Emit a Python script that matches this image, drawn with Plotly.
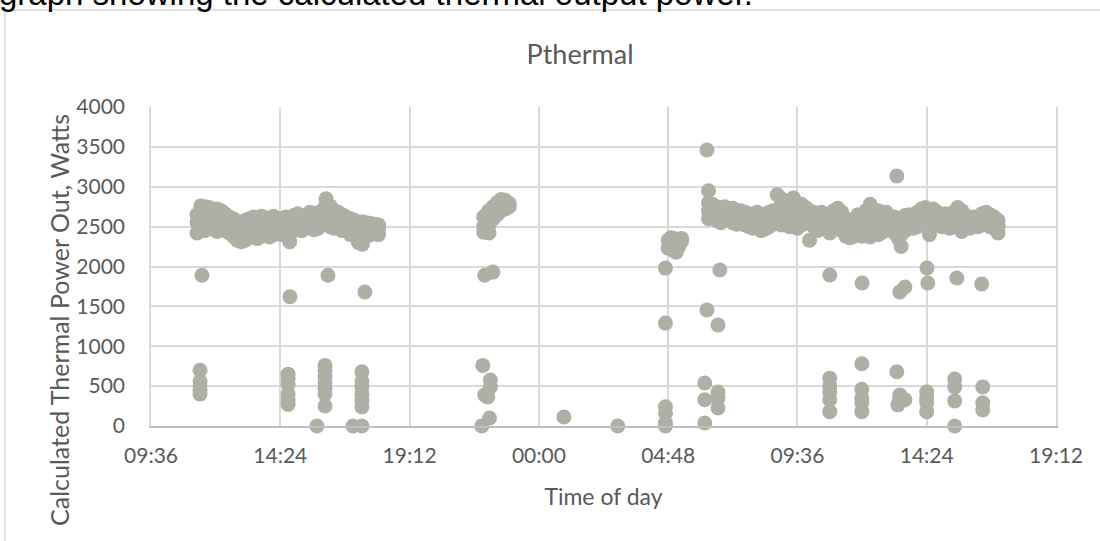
import plotly.graph_objects as go

# ---------------- data (time in hours from midnight of day 1, power in W) -------------
tick_hours = [9.6, 14.4, 19.2, 24.0, 28.8, 33.6, 38.4, 43.2]
tick_labels = ["09:36", "14:24", "19:12", "00:00", "04:48", "09:36", "14:24", "19:12"]
y_ticks = [0, 500, 1000, 1500, 2000, 2500, 3000, 3500, 4000]

# day 1 main operating band
day1_band = [
    (11.31, [2420, 2550, 2650]), (11.45, [2480, 2600, 2720, 2760]),
    (11.60, [2450, 2580, 2700, 2750]), (11.75, [2500, 2620, 2740]),
    (11.90, [2470, 2560, 2680]), (12.05, [2440, 2540, 2650, 2720]),
    (12.20, [2480, 2600, 2700]), (12.35, [2450, 2550, 2660]),
    (12.50, [2420, 2520, 2620]), (12.65, [2380, 2500, 2600]),
    (12.80, [2330, 2450, 2560]), (12.95, [2310, 2420, 2540]),
    (13.10, [2330, 2450, 2580]), (13.25, [2360, 2480, 2600]),
    (13.40, [2390, 2500, 2620]), (13.55, [2350, 2470, 2590]),
    (13.70, [2380, 2500, 2630]), (13.85, [2400, 2520, 2610]),
    (14.00, [2370, 2480, 2600]), (14.15, [2400, 2520, 2630]),
    (14.30, [2430, 2540, 2600]), (14.45, [2400, 2500, 2580]),
    (14.60, [2450, 2550, 2620]), (14.75, [2310, 2480, 2580]),
    (14.90, [2450, 2560, 2640]), (15.05, [2500, 2590, 2660]),
    (15.20, [2450, 2550, 2620]), (15.35, [2480, 2580, 2640]),
    (15.50, [2500, 2600, 2680]), (15.65, [2460, 2560, 2650]),
    (15.80, [2480, 2590, 2670]), (15.95, [2520, 2620, 2700]),
    (16.10, [2550, 2700, 2780, 2850]), (16.25, [2500, 2650, 2760]),
    (16.40, [2480, 2600, 2700]), (16.55, [2520, 2620, 2680]),
    (16.70, [2450, 2560, 2650]), (16.85, [2480, 2580, 2620]),
    (17.00, [2400, 2500, 2600]), (17.15, [2450, 2540, 2580]),
    (17.30, [2300, 2420, 2520]), (17.45, [2280, 2400, 2500, 2560]),
    (17.60, [2380, 2470, 2550]), (17.75, [2400, 2500, 2540]),
    (17.90, [2420, 2500, 2530]), (18.05, [2400, 2480, 2520]),
]
day1_other = [
    (11.49, [1890]), (14.76, [1620]), (16.17, [1890]), (17.54, [1680]),
    (11.42, [700, 560, 500, 450, 400]),
    (14.69, [650, 600, 520, 400, 330, 270]),
    (16.06, [760, 700, 620, 550, 470, 400, 250]),
    (15.76, [0]), (17.10, [0]), (17.43, [0]),
    (17.43, [680, 560, 490, 400, 320, 240]),
]

# evening cluster
evening = [
    (21.95, [2430, 2500, 2620]), (22.05, [2470, 2550, 2650]),
    (22.15, [2420, 2520, 2700]), (22.30, [2600, 2700, 2750]),
    (22.45, [2650, 2720, 2780, 2800]), (22.60, [2700, 2780, 2820, 2840]),
    (22.75, [2720, 2800, 2830]), (22.90, [2750, 2790]),
    (21.99, [1890]), (22.29, [1930]),
    (21.92, [760]), (22.20, [577, 490]), (21.99, [390]), (22.10, [365]),
    (21.88, [0]), (22.17, [100]),
]

# night / early morning
night = [
    (24.93, [113]), (26.93, [0]),
    (28.70, [1980, 1290, 240, 160, 40, 0]),
    (28.80, [2230, 2330]), (28.90, [2360, 2280]), (29.00, [2200, 2350]),
    (29.10, [2180, 2280]), (29.20, [2250, 2330]), (29.30, [2320, 2350]),
]

# day 2 main operating band
day2_band = [
    (30.30, [2600, 2700, 2800, 2950]), (30.45, [2650, 2720, 2780]),
    (30.60, [2580, 2680, 2750]), (30.75, [2550, 2650, 2730]),
    (30.90, [2600, 2700, 2750]), (31.05, [2580, 2660, 2720]),
    (31.20, [2550, 2640, 2730]), (31.35, [2530, 2620, 2700]),
    (31.50, [2560, 2650, 2700]), (31.65, [2520, 2600, 2680]),
    (31.80, [2500, 2580, 2660]), (31.95, [2480, 2570, 2650]),
    (32.10, [2510, 2600, 2680]), (32.25, [2450, 2550, 2640]),
    (32.40, [2470, 2580, 2660]), (32.55, [2500, 2600, 2680]),
    (32.70, [2530, 2620, 2700]), (32.85, [2550, 2650, 2900]),
    (33.00, [2520, 2640, 2780, 2850]), (33.15, [2560, 2680, 2800]),
    (33.30, [2500, 2620, 2750]), (33.45, [2540, 2660, 2800, 2860]),
    (33.60, [2480, 2600, 2720]), (33.75, [2520, 2640, 2780]),
    (33.90, [2550, 2660, 2740]), (34.05, [2330, 2600, 2700]),
    (34.20, [2500, 2620, 2680]), (34.35, [2450, 2560, 2650]),
    (34.50, [2520, 2600, 2680]), (34.65, [2480, 2560, 2620]),
    (34.80, [2420, 2540, 2640]), (34.95, [2460, 2580, 2700]),
    (35.10, [2500, 2640, 2730]), (35.25, [2450, 2580, 2680]),
    (35.40, [2380, 2480, 2600]), (35.55, [2360, 2450, 2550]),
    (35.70, [2380, 2470, 2560]), (35.85, [2400, 2550, 2650]),
    (36.00, [2380, 2500, 2620]), (36.15, [2430, 2560, 2700]),
    (36.30, [2370, 2550, 2650, 2780]), (36.45, [2450, 2580, 2660]),
    (36.60, [2400, 2520, 2620, 2700]), (36.75, [2430, 2550, 2650]),
    (36.90, [2480, 2600, 2680]), (37.05, [2500, 2580, 2620]),
    (37.20, [2420, 2550, 2620]), (37.35, [2350, 2450, 2560]),
    (37.45, [2250, 2400]), (37.60, [2450, 2560, 2640]),
    (37.75, [2520, 2600, 2650]), (37.90, [2480, 2560, 2620]),
    (38.05, [2500, 2600, 2680]), (38.20, [2550, 2650, 2720]),
    (38.35, [2600, 2700, 2740]), (38.50, [2400, 2600, 2700]),
    (38.65, [2550, 2650, 2720]), (38.80, [2520, 2620, 2680]),
    (38.95, [2500, 2580, 2650]), (39.10, [2520, 2600, 2660]),
    (39.25, [2480, 2560, 2620]), (39.40, [2500, 2600, 2680]),
    (39.55, [2520, 2640, 2740]), (39.70, [2440, 2560, 2700]),
    (39.85, [2500, 2600, 2640]), (40.00, [2480, 2550, 2600]),
    (40.15, [2520, 2580, 2620]), (40.30, [2500, 2560, 2620]),
    (40.45, [2520, 2620, 2660]), (40.60, [2550, 2640, 2680]),
    (40.75, [2500, 2600, 2650]), (40.90, [2480, 2560, 2620]),
    (41.05, [2420, 2500, 2580]),
]
day2_other = [
    (30.24, [3460, 1455]), (37.29, [3135]),
    (30.65, [1267]), (30.72, [1956]), (34.80, [1894]), (36.00, [1793]),
    (37.40, [1680]), (37.59, [1743]), (38.41, [1981]), (38.44, [1793]),
    (39.52, [1856]), (40.44, [1780]),
    (30.16, [540, 330, 38]), (30.65, [426, 350, 225]),
    (34.80, [600, 500, 430, 330, 180]), (35.99, [780, 460, 350, 290, 180]),
    (37.29, [680]), (37.40, [390, 350]), (37.59, [330]), (37.33, [265]),
    (38.40, [430, 350, 290, 180]),
    (39.44, [590, 490, 315, 0]), (40.48, [490, 290, 200]),
]

# ---------------- flatten ----------------
xs, ys = [], []
for group in (day1_band, day1_other, evening, night, day2_band, day2_other):
    for t, vals in group:
        for v in vals:
            xs.append(t)
            ys.append(v)

GREY_TXT = "#595959"
FONT = "Lato"

# plot area in pixels: x 151..1056, y 107..426
def px_x(p):
    return (p - 151) / 905

def px_y(p):
    return (426 - p) / 319

fig = go.Figure()
fig.add_trace(go.Scatter(
    x=xs, y=ys, mode="markers", name="Pthermal",
    marker=dict(size=15, color="#afafa6", line=dict(width=0)),
    cliponaxis=False, showlegend=False,
))

fig.update_layout(
    width=1100, height=541,
    margin=dict(l=151, r=44, t=107, b=115),
    paper_bgcolor="white", plot_bgcolor="white",
    font=dict(family=FONT, color=GREY_TXT),
    title=dict(text="Pthermal", x=px_x(580), xref="paper", xanchor="center",
               y=1 - 55 / 541, yanchor="middle", font=dict(size=27, color=GREY_TXT, family=FONT)),
    xaxis=dict(
        range=[tick_hours[0], tick_hours[-1]], tickmode="array",
        tickvals=tick_hours, ticktext=tick_labels,
        showgrid=True, gridcolor="#d9d9d9", gridwidth=1.5,
        showline=True, linecolor="#bfbfbf", linewidth=1.5,
        zeroline=False, ticks="", ticklabelstandoff=10,
        tickfont=dict(size=21, color=GREY_TXT, family=FONT),
        title=dict(text="Time of day", font=dict(size=23, color=GREY_TXT, family=FONT), standoff=23),
    ),
    yaxis=dict(
        range=[0, 4000], tickmode="array", tickvals=y_ticks,
        showgrid=True, gridcolor="#d9d9d9", gridwidth=1.5,
        showline=True, linecolor="#d9d9d9", linewidth=1.5, mirror=True,
        zeroline=False, ticks="", ticklabelstandoff=20,
        tickfont=dict(size=21, color=GREY_TXT, family=FONT),
    ),
    shapes=[dict(type="rect", xref="paper", yref="paper",
                 x0=px_x(5), x1=1.2, y0=-0.6, y1=px_y(10),
                 line=dict(color="#d9d9d9", width=1.5), fillcolor="rgba(0,0,0,0)", layer="below")],
    annotations=[
        dict(text="graph showing the calculated thermal output power.",
             xref="paper", yref="paper", x=px_x(-3), y=px_y(14),
             xanchor="left", yanchor="bottom", showarrow=False,
             font=dict(family="Liberation Sans", size=33, color="black")),
        dict(text="Calculated Thermal Power Out, Watts",
             xref="paper", yref="paper", x=px_x(59), y=px_y(320),
             xanchor="center", yanchor="middle", textangle=-90, showarrow=False,
             font=dict(family=FONT, size=25, color=GREY_TXT)),
    ],
)

fig.write_html("out.html")
